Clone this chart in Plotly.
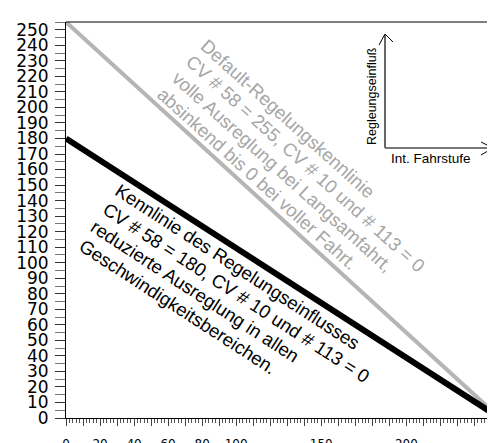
import math
import plotly.graph_objects as go

# ---- data ----
stufe = [0, 255]
default_kennlinie = [255, 0]      # CV58 = 255
reduziert_kennlinie = [180, 0]    # CV58 = 180

x_label_vals = [0, 20, 40, 60, 80, 100, 150, 200]
y_tick_vals = list(range(0, 251, 10))

default_lines = ["Default-Regelungskennlinie",
                 "CV # 58 = 255, CV # 10 und # 113 = 0",
                 "volle Ausreglung bei Langsamfahrt,",
                 "absinkend bis 0 bei voller Fahrt."]
reduziert_lines = ["Kennlinie des Regelungseinflusses",
                   "CV # 58 = 180, CV # 10 und # 113 = 0",
                   "reduzierte Ausreglung in allen",
                   "Geschwindigkeitsbereichen."]
inset_y_label = "Regleungseinfluß"
inset_x_label = "Int. Fahrstufe"

W, H = 495, 443
ML, MR, MT, MB = 58, 0, 14, 33
PW, PH = W - ML - MR, H - MT - MB

def px(X):
    return (X - ML) / PW

def py(Y):
    return (H - MB - Y) / PH

fig = go.Figure()
fig.add_trace(go.Scatter(x=stufe, y=default_kennlinie, mode="lines",
                         line=dict(color="#b5b5b5", width=4), hoverinfo="skip"))
fig.add_trace(go.Scatter(x=stufe, y=reduziert_kennlinie, mode="lines",
                         line=dict(color="#000000", width=6), hoverinfo="skip"))

x_ticks = list(range(0, 256, 10))
x_text = [str(v) if v in x_label_vals else "" for v in x_ticks]

fig.update_xaxes(range=[0, 256.8], showgrid=False, zeroline=False,
                 showline=True, linecolor="#000", linewidth=1,
                 tickmode="array", tickvals=x_ticks, ticktext=x_text,
                 ticks="outside", ticklen=7, tickcolor="#444", tickwidth=1,
                 tickfont=dict(family="DejaVu Sans", size=12, color="#000"),
                 ticklabelstandoff=8,
                 minor=dict(dtick=2, ticks="outside", ticklen=4, tickcolor="#555", tickwidth=1))
fig.update_yaxes(range=[0, 255], showgrid=False, zeroline=False,
                 showline=True, linecolor="#000", linewidth=1,
                 tickmode="array", tickvals=y_tick_vals,
                 ticks="outside", ticklen=10, tickcolor="#333", tickwidth=1,
                 tickfont=dict(family="DejaVu Sans", size=17, color="#000"),
                 ticklabelstandoff=3,
                 minor=dict(dtick=5, ticks="outside", ticklen=10, tickcolor="#777", tickwidth=1))

shapes = []
shapes.append(dict(type="line", xref="paper", yref="paper", x0=0, x1=1, y0=1, y1=1,
                   line=dict(color="#000", width=1.2)))
shapes.append(dict(type="line", xref="paper", yref="paper", x0=px(377), x1=px(377), y0=py(140), y1=py(27),
                   line=dict(color="#000", width=1.2)))
shapes.append(dict(type="line", xref="paper", yref="paper", x0=px(377), x1=px(484), y0=py(140), y1=py(140),
                   line=dict(color="#777", width=2)))
shapes.append(dict(type="path", xref="paper", yref="paper",
                   path=f"M {px(371)} {py(37)} L {px(377)} {py(26)} L {px(385)} {py(34)}",
                   line=dict(color="#000", width=1)))
shapes.append(dict(type="path", xref="paper", yref="paper",
                   path=f"M {px(473)} {py(134)} L {px(485)} {py(140)} L {px(473)} {py(147)}",
                   line=dict(color="#000", width=1)))
fig.update_layout(shapes=shapes)

annotations = []

def text_block(lines, angle, top_left, spacing, size, color):
    th = math.radians(angle)
    box_h = size * 1.25 + 4
    x0, y0 = top_left
    for i, ln in enumerate(lines):
        xt = x0 - i * spacing * math.sin(th)
        yt = y0 + i * spacing * math.cos(th)
        ax = xt - box_h * math.sin(th)
        annotations.append(dict(x=px(ax), y=py(yt), xref="paper", yref="paper", text=ln,
                                showarrow=False, textangle=angle, xanchor="left", yanchor="top",
                                font=dict(family="Liberation Sans", size=size, color=color)))

text_block(default_lines, 42, (204, 24), 21.7, 18.5, "#a6a6a6")
text_block(reduziert_lines, 33, (115, 169), 21.8, 18.5, "#000")

annotations.append(dict(x=px(364), y=py(88), xref="paper", yref="paper", text=inset_y_label,
                        showarrow=False, textangle=-90, xanchor="center", yanchor="middle",
                        font=dict(family="Liberation Sans", size=12.5, color="#000")))
annotations.append(dict(x=px(423), y=py(150), xref="paper", yref="paper", text=inset_x_label,
                        showarrow=False, xanchor="center", yanchor="middle",
                        font=dict(family="Liberation Sans", size=13.5, color="#000")))
fig.update_layout(annotations=annotations)

fig.update_layout(width=W, height=H, margin=dict(l=ML, r=MR, t=MT, b=MB),
                  paper_bgcolor="white", plot_bgcolor="white", showlegend=False)

fig.write_html("out.html")
